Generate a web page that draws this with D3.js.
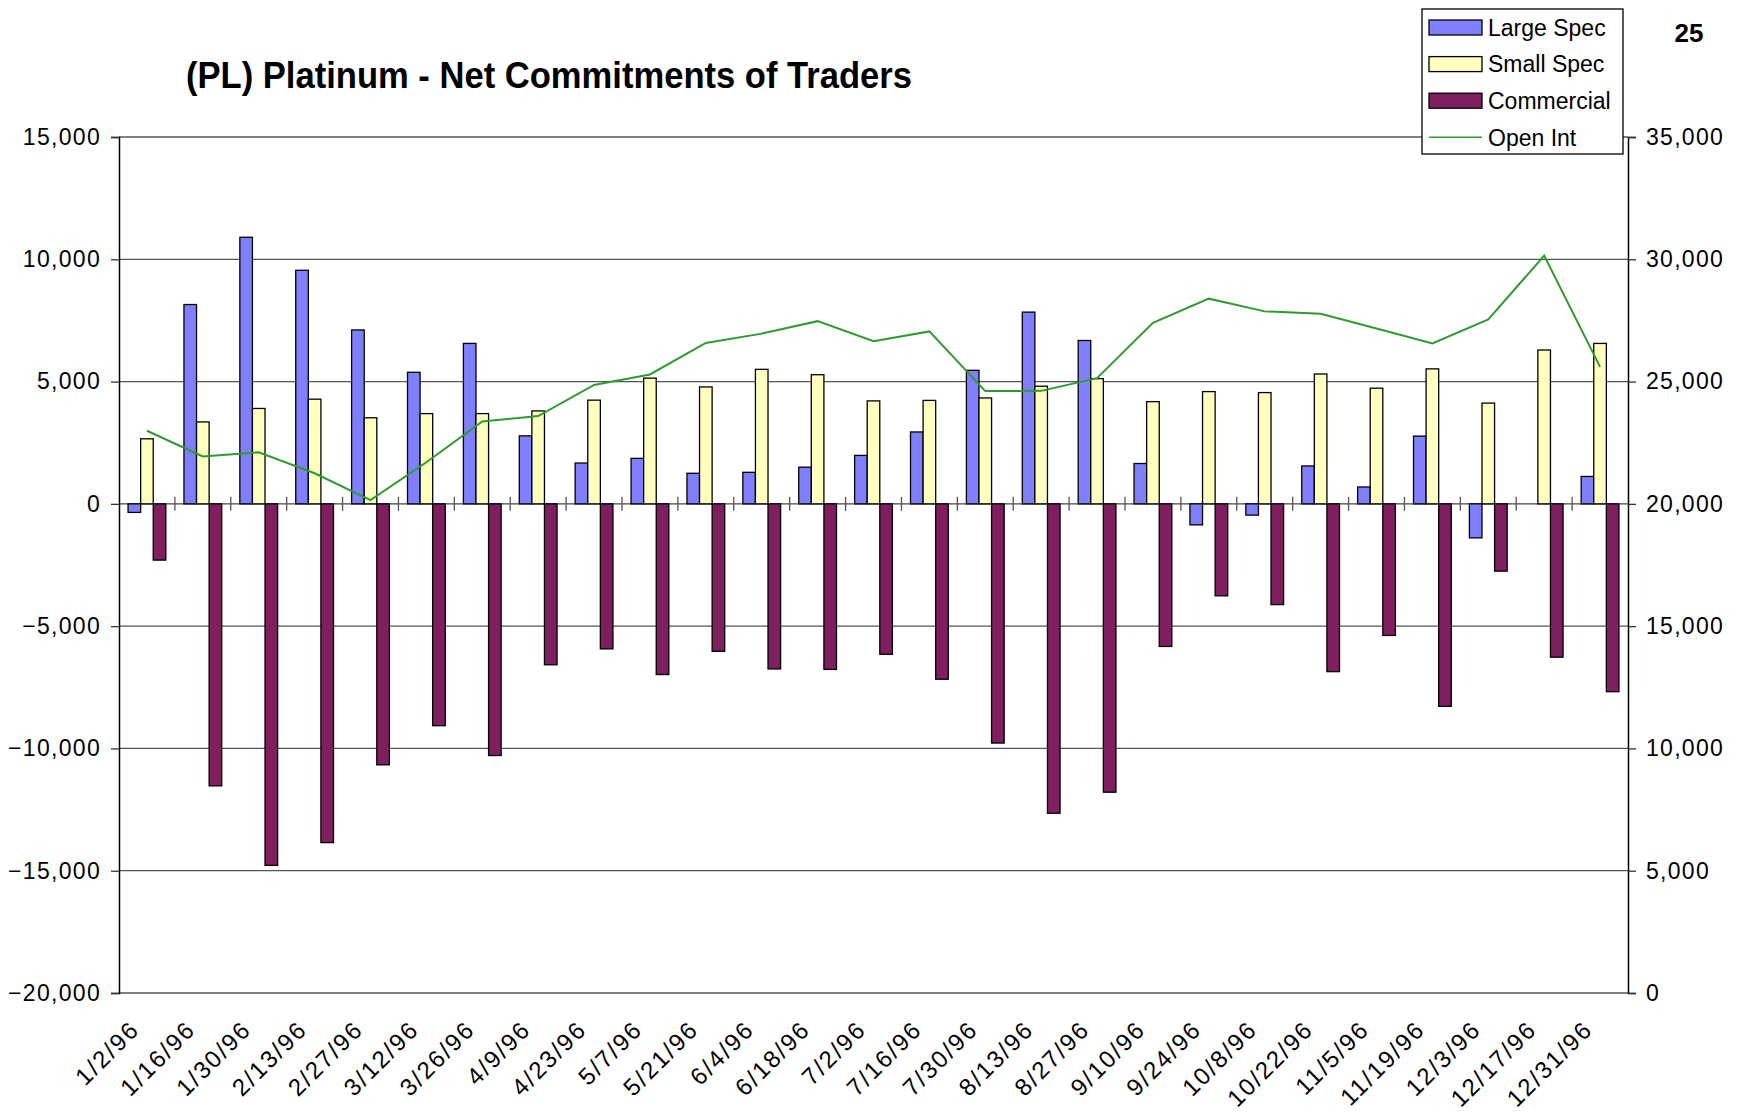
<!DOCTYPE html>
<html>
<head>
<meta charset="utf-8">
<script src="https://cdn.jsdelivr.net/npm/d3@7"></script>
<style>
  body { margin: 0; background: #fff; }
  svg { display: block; font-family: Arial, "Liberation Sans", sans-serif; }
</style>
</head>
<body>
<svg width="1739" height="1112"></svg>
<script>
// weekly report dates
const dates = ['1/2/96', '1/16/96', '1/30/96', '2/13/96', '2/27/96', '3/12/96', '3/26/96', '4/9/96',
  '4/23/96', '5/7/96', '5/21/96', '6/4/96', '6/18/96', '7/2/96', '7/16/96', '7/30/96', '8/13/96',
  '8/27/96', '9/10/96', '9/24/96', '10/8/96', '10/22/96', '11/5/96', '11/19/96', '12/3/96',
  '12/17/96', '12/31/96'];

// net positions (left axis)
const largeSpec = [-350, 8150, 10900, 9550, 7110, 5380, 6560, 2780, 1670, 1860, 1250, 1290, 1500,
  1980, 2940, 5460, 7840, 6680, 1650, -860, -460, 1550, 690, 2770, -1390, 0, 1120];
const smallSpec = [2660, 3350, 3900, 4280, 3520, 3690, 3690, 3800, 4240, 5140, 4780, 5500, 5280,
  4210, 4230, 4330, 4810, 5120, 4180, 4590, 4550, 5310, 4730, 5520, 4120, 6290, 6560];
const commercial = [-2300, -11530, -14780, -13850, -10670, -9070, -10290, -6580, -5930, -6980, -6030,
  -6750, -6770, -6150, -7170, -9780, -12650, -11790, -5830, -3760, -4120, -6860, -5380, -8280,
  -2750, -6270, -7680];

// open interest (right axis)
const openInt = [22990, 21940, 22110, 21250, 20150, 21700, 23370, 23590, 24860, 25290, 26580, 26960,
  27470, 26650, 27050, 24610, 24620, 25140, 27400, 28390, 27870, 27770, 27170, 26560, 27540,
  30150, 25600];

const seriesNames = ['Large Spec', 'Small Spec', 'Commercial', 'Open Int'];
const leftTicks = [15000, 10000, 5000, 0, -5000, -10000, -15000, -20000];
const rightTicks = [35000, 30000, 25000, 20000, 15000, 10000, 5000, 0];

const colors = { 'Large Spec': '#8080ff', 'Small Spec': '#ffffc0', 'Commercial': '#7f1f5f', 'Open Int': '#2f9a2f' };

const svg = d3.select('svg');
const plotLeft = 119, plotRight = 1628, plotTop = 137, plotBottom = 993;

const x0 = d3.scaleBand().domain(dates).range([plotLeft, plotRight]);
const x1 = d3.scaleBand().domain(seriesNames.slice(0, 3)).range([0, x0.bandwidth()]).paddingOuter(0.72);
const y = d3.scaleLinear().domain([-20000, 15000]).range([plotBottom, plotTop]);
const y2 = d3.scaleLinear().domain([0, 35000]).range([plotBottom, plotTop]);

// gridlines
svg.append('g')
  .selectAll('line')
  .data(leftTicks)
  .enter()
  .append('line')
  .attr('x1', plotLeft).attr('x2', plotRight)
  .attr('y1', d => y(d)).attr('y2', d => y(d))
  .attr('stroke', d => d === 0 ? '#444' : '#555')
  .attr('stroke-width', 1.3);

// bars
const rows = dates.map((d, i) => ({
  date: d,
  vals: [
    { key: 'Large Spec', value: largeSpec[i] },
    { key: 'Small Spec', value: smallSpec[i] },
    { key: 'Commercial', value: commercial[i] }
  ]
}));

svg.append('g')
  .selectAll('g')
  .data(rows)
  .enter()
  .append('g')
  .attr('transform', d => `translate(${x0(d.date)},0)`)
  .selectAll('rect')
  .data(d => d.vals.filter(v => v.value !== 0))
  .enter()
  .append('rect')
  .attr('x', d => x1(d.key))
  .attr('width', x1.bandwidth())
  .attr('y', d => y(Math.max(0, d.value)))
  .attr('height', d => Math.abs(y(d.value) - y(0)))
  .attr('fill', d => colors[d.key])
  .attr('stroke', '#000')
  .attr('stroke-width', 1.3);

// category ticks on the zero line
svg.append('g')
  .selectAll('line')
  .data(dates.slice(1))
  .enter()
  .append('line')
  .attr('x1', d => x0(d)).attr('x2', d => x0(d))
  .attr('y1', y(0) - 7).attr('y2', y(0) + 7)
  .attr('stroke', '#555')
  .attr('stroke-width', 1.3);

// open interest line
const line = d3.line()
  .x((d, i) => x0(dates[i]) + x0.bandwidth() / 2)
  .y(d => y2(d));

svg.append('path')
  .datum(openInt)
  .attr('d', line)
  .attr('fill', 'none')
  .attr('stroke', colors['Open Int'])
  .attr('stroke-width', 2);

// axes
const fmt = d3.format(',');
const yAxis = d3.axisLeft(y).tickValues(leftTicks).tickFormat(fmt).tickSize(8).tickPadding(10);
const y2Axis = d3.axisRight(y2).tickValues(rightTicks).tickFormat(fmt).tickSize(8).tickPadding(10);

const gl = svg.append('g').attr('transform', `translate(${plotLeft},0)`).call(yAxis);
const gr = svg.append('g').attr('transform', `translate(${plotRight},0)`).call(y2Axis);

[gl, gr].forEach(g => {
  g.select('.domain').attr('stroke', '#000').attr('stroke-width', 1.5);
  g.selectAll('.tick line').attr('stroke', '#333').attr('stroke-width', 1.3);
  g.selectAll('.tick text')
    .attr('font-size', 23)
    .attr('letter-spacing', 1.3)
    .attr('fill', '#000')
    .attr('font-family', 'Arial, "Liberation Sans", sans-serif');
});

// date labels, rotated
svg.append('g')
  .selectAll('text')
  .data(dates)
  .enter()
  .append('text')
  .attr('transform', d => `translate(${x0(d) + x0.bandwidth() / 2 - 6},${plotBottom + 38}) rotate(-45)`)
  .attr('text-anchor', 'end')
  .attr('font-size', 24)
  .attr('letter-spacing', 2)
  .text(d => d);

// title
svg.append('text')
  .attr('x', 186)
  .attr('y', 88)
  .attr('font-size', 36)
  .attr('font-weight', 'bold')
  .attr('textLength', 726)
  .attr('lengthAdjust', 'spacingAndGlyphs')
  .text('(PL) Platinum - Net Commitments of Traders');

svg.append('text')
  .attr('x', 1689)
  .attr('y', 42)
  .attr('text-anchor', 'middle')
  .attr('font-size', 26)
  .attr('font-weight', 'bold')
  .text('25');

// legend
const legend = svg.append('g');
legend.append('rect')
  .attr('x', 1422).attr('y', 9)
  .attr('width', 201).attr('height', 145)
  .attr('fill', '#fff')
  .attr('stroke', '#000')
  .attr('stroke-width', 1.3);

const items = legend.selectAll('g.item')
  .data(seriesNames)
  .enter()
  .append('g')
  .classed('item', true)
  .attr('transform', (d, i) => `translate(1429,${27.5 + i * 36.6})`);

items.filter(d => d !== 'Open Int')
  .append('rect')
  .attr('x', 0).attr('y', -7.5)
  .attr('width', 53).attr('height', 15)
  .attr('fill', d => colors[d])
  .attr('stroke', '#000')
  .attr('stroke-width', 1.3);

items.filter(d => d === 'Open Int')
  .append('line')
  .attr('x1', 0).attr('x2', 53)
  .attr('stroke', colors['Open Int'])
  .attr('stroke-width', 1.5);

items.append('text')
  .attr('x', 59)
  .attr('dy', '0.36em')
  .attr('font-size', 23)
  .text(d => d);
</script>
</body>
</html>
